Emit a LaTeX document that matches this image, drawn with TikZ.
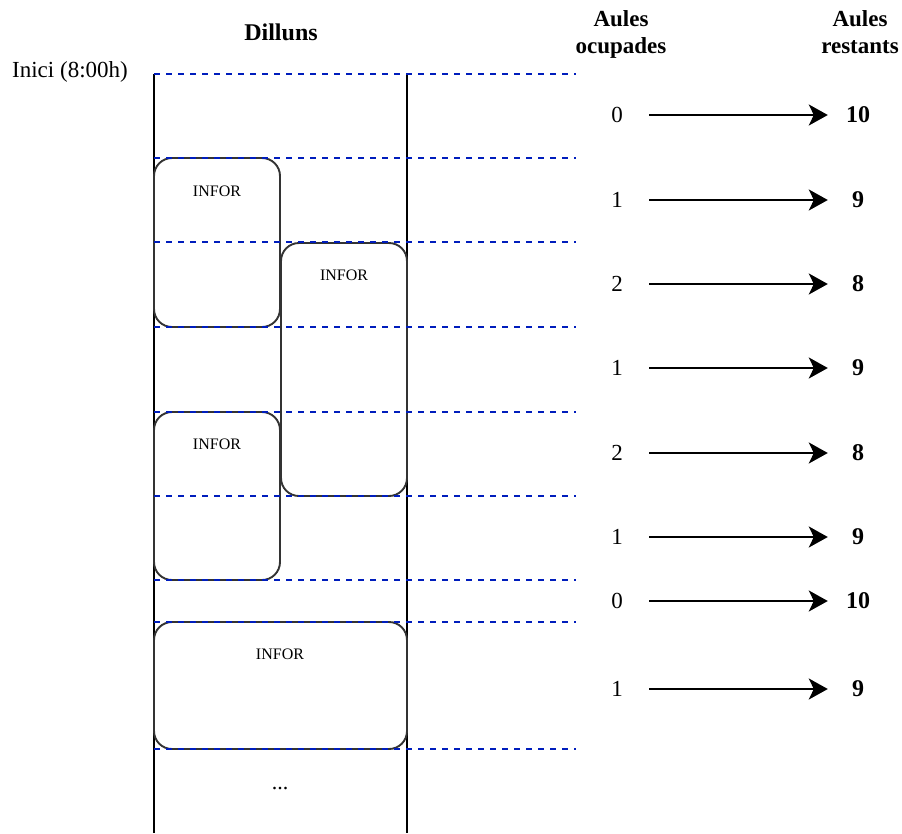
\documentclass[tikz,border=0pt]{standalone}
\usepackage{fontspec}
\setmainfont{Liberation Serif}
\usetikzlibrary{arrows.meta}
\definecolor{dashblue}{HTML}{001DBC}
\definecolor{boxgray}{HTML}{333333}
\tikzset{
  slot/.style={draw=dashblue, line width=1.9pt, dash pattern=on 6pt off 6pt},
  colline/.style={draw=black, line width=1.9pt},
  classbox/.style={draw=boxgray, line width=1.9pt, rounded corners=18pt},
  boxlabel/.style={font=\fontsize{16}{18}\selectfont, inner sep=0pt, anchor=center},
  head/.style={font=\fontsize{23}{27}\selectfont\bfseries, align=center, inner sep=0pt, anchor=north},
  occ/.style={font=\fontsize{23}{26}\selectfont, inner sep=0pt, minimum width=64pt, minimum height=10pt},
  rest/.style={font=\fontsize{24}{26}\selectfont\bfseries, inner sep=0pt, minimum width=60pt, minimum height=10pt},
  flow/.style={draw=black, line width=2pt, -{Stealth[length=19pt, width=21pt, inset=5pt]}},
}
\begin{document}
\begin{tikzpicture}[x=1pt, y=-1pt]
\useasboundingbox (0,0) rectangle (902,833);

% column lines
\coordinate (c1t) at (154,74);
\coordinate (c1b) at (154,833);
\coordinate (c2t) at (407,74);
\coordinate (c2b) at (407,833);
\draw[colline] (c1t) -- (c1b);
\draw[colline] (c2t) -- (c2b);

% class boxes
\draw[classbox] (154,158) rectangle (280,327);
\draw[classbox] (281,243) rectangle (407,496);
\draw[classbox] (154,412) rectangle (280,580);
\draw[classbox] (154,622) rectangle (407,749);
\node[boxlabel] (b1) at (217,191) {INFOR};
\node[boxlabel] (b2) at (344,275) {INFOR};
\node[boxlabel] (b3) at (217,444) {INFOR};
\node[boxlabel] (b4) at (280,654) {INFOR};

% time slot lines
\foreach \yy in {74,158,242,327,412,496,580,622,749}{
  \draw[slot] (154,\yy) -- (576,\yy);
}

% texts
\node[font=\fontsize{24}{28}\selectfont\bfseries, inner sep=0pt] (day) at (281,32) {Dilluns};
\node[font=\fontsize{23}{26}\selectfont, inner sep=0pt] (start) at (70,72) {Inici (8:00h)};
\node[head] (hocc) at (621,10) {Aules\\ocupades};
\node[head] (hrest) at (860,10) {Aules\\restants};
\node[font=\fontsize{22}{26}\selectfont, inner sep=0pt, anchor=base] (dots) at (280,789) {...};

% rows
\node[occ] (l1) at (617,115) {0};
\node[occ] (l2) at (617,200) {1};
\node[occ] (l3) at (617,284) {2};
\node[occ] (l4) at (617,368) {1};
\node[occ] (l5) at (617,453) {2};
\node[occ] (l6) at (617,537) {1};
\node[occ] (l7) at (617,601) {0};
\node[occ] (l8) at (617,689) {1};
\node[rest] (r1) at (858,115) {10};
\node[rest] (r2) at (858,200) {9};
\node[rest] (r3) at (858,284) {8};
\node[rest] (r4) at (858,368) {9};
\node[rest] (r5) at (858,453) {8};
\node[rest] (r6) at (858,537) {9};
\node[rest] (r7) at (858,601) {10};
\node[rest] (r8) at (858,689) {9};
\foreach \i in {1,...,8}{
  \draw[flow] (l\i) -- (r\i);
}
\end{tikzpicture}
\end{document}
